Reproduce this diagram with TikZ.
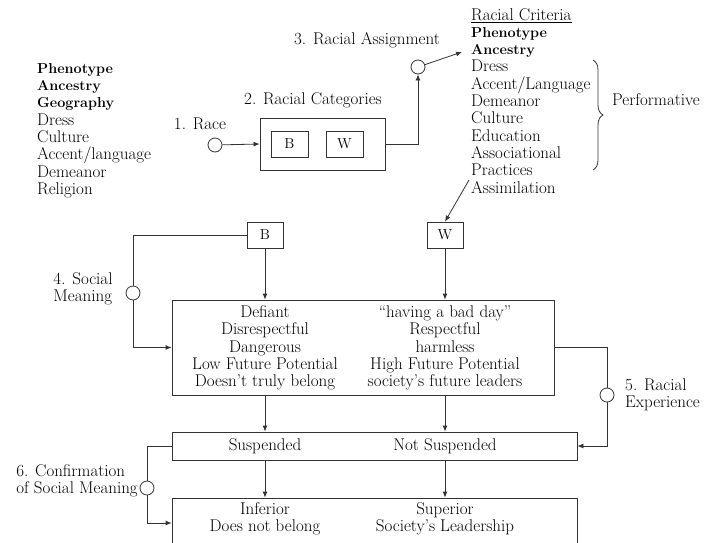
\documentclass[tikz,border=0pt]{standalone}
\usepackage{tikz}
\usetikzlibrary{arrows.meta,decorations.pathreplacing}
\definecolor{flow-ink}{RGB}{51,51,51}
\newcommand{\heavy}[1]{{\fontsize{14.4}{17.3}\selectfont\bfseries #1}}

\begin{document}
\begin{tikzpicture}[x=1pt, y=-1pt,
    every node/.style={inner sep=0pt, text=black,
        font=\fontsize{17}{17.3}\selectfont},
    box/.style={draw=flow-ink, line width=0.8pt, rectangle},
    dot/.style={draw=flow-ink, line width=0.8pt, circle, minimum size=14pt},
    letter/.style={font=\fontsize{14.5}{17}\selectfont},
    link/.style={flow-ink, line width=0.8pt, -{Latex[length=6pt,width=5pt]}},
    wire/.style={flow-ink, line width=0.8pt}]

\useasboundingbox (0,0) rectangle (709,542);
\clip (0,0) rectangle (709,542);

% Criteria lists
\node[anchor=north west, align=left] (traits) at (37,63)
    {\heavy{Phenotype}\\ \heavy{Ancestry}\\ \heavy{Geography}\\ Dress\\
     Culture\\ Accent/language\\ Demeanor\\ Religion};
\node[anchor=north west, align=left] (criteria) at (471,8)
    {\underline{Racial Criteria}\\ \heavy{Phenotype}\\ \heavy{Ancestry}\\ Dress\\
     Accent/Language\\ Demeanor\\ Culture\\ Education\\ Associational\\
     Practices\\ Assimilation};
\coordinate (bracetop) at (593,60);
\coordinate (bracebot) at (593,170);
\draw[wire, decorate, decoration={brace, amplitude=10pt}] (bracetop) -- (bracebot);
\node[anchor=west] (perform) at (612,100) {Performative};

% Step 1 to 3
\node (racelbl) at (200,124) {1. Race};
\node[dot] (race) at (215,145) {};
\node (catlbl) at (313,100) {2. Racial Categories};
\node[box, minimum width=125pt, minimum height=52pt] (cat) at (322.5,144) {};
\node[box, letter, minimum width=37pt, minimum height=26pt] (catb) at (289.5,144) {B};
\node[box, letter, minimum width=37pt, minimum height=26pt] (catw) at (344.5,144) {W};
\node (assignlbl) at (367,40) {3. Racial Assignment};
\node[dot] (assign) at (418,67) {};
\coordinate (critin) at (462,52);
\coordinate (critout) at (469,180);

\draw[link] (race) -- (cat.west);
\draw[link] (cat.east) -| (assign);
\draw[link] (assign) -- (critin);

% Row B / W
\node[box, letter, minimum width=36pt, minimum height=26pt] (bbox) at (265,235) {B};
\node[box, letter, minimum width=36pt, minimum height=26pt] (wbox) at (445,235) {W};
\draw[link] (critout) -- (wbox.north);

% Social meaning
\node[box, minimum width=382pt, minimum height=95pt] (meaning) at (363,347.5) {};
\node[align=center] (bmean) at (265,348)
    {Defiant\\ Disrespectful\\ Dangerous\\ Low Future Potential\\ Doesn't truly belong};
\node[align=center] (wmean) at (445,348)
    {``having a bad day''\\ Respectful\\ harmless\\ High Future Potential\\ society's future leaders};
\node[align=left] (sociallbl) at (83,289) {4. Social\\ Meaning};
\node[dot] (social) at (133,293) {};

\draw[wire] (bbox.west) -| (social);
\draw[link] (social) |- (meaning.west);
\draw[link] (bbox) -- (bbox |- meaning.north);
\draw[link] (wbox) -- (wbox |- meaning.north);

% Racial experience
\node[box, minimum width=405pt, minimum height=28pt] (susp) at (374.5,446) {};
\node (bsusp) at (265,446) {Suspended};
\node (wsusp) at (445,446) {Not Suspended};
\node[align=left, anchor=west] (experlbl) at (625,395) {5. Racial\\ Experience};
\node[dot] (exper) at (607,395) {};

\draw[wire] (meaning.east) -| (exper);
\draw[link] (exper) |- (susp.east);
\draw[link] (bmean |- meaning.south) -- (bmean |- susp.north);
\draw[link] (wmean |- meaning.south) -- (wmean |- susp.north);

% Confirmation
\node[box, minimum width=405pt, minimum height=50pt] (result) at (374.5,523) {};
\node[align=center] (bres) at (265,519) {Inferior\\ Does not belong};
\node[align=center] (wres) at (445,519) {Superior\\ Society's Leadership};
\node[align=left] (confirmlbl) at (77,481) {6. Confirmation\\ of Social Meaning};
\node[dot] (confirm) at (147,488) {};

\draw[wire] (susp.west) -| (confirm);
\draw[link] (confirm) |- (result.west);
\draw[link] (bsusp |- susp.south) -- (bsusp |- result.north);
\draw[link] (wsusp |- susp.south) -- (wsusp |- result.north);

\end{tikzpicture}
\end{document}
